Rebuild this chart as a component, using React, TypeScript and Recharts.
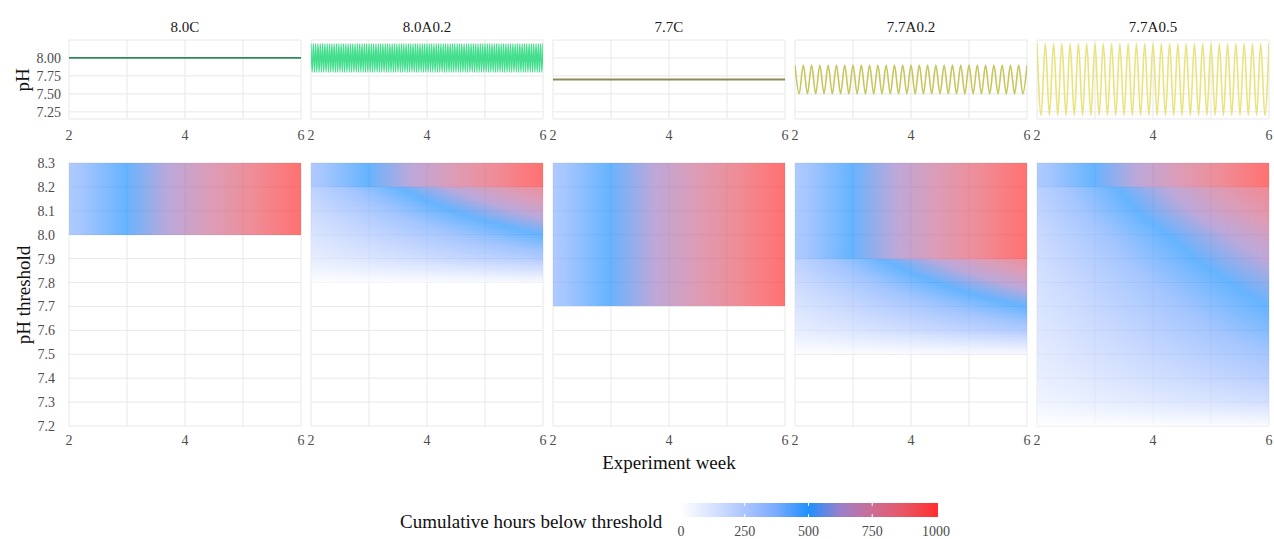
import React from 'react';
import { LineChart, Line, XAxis, YAxis, CartesianGrid, ComposedChart, ReferenceArea } from 'recharts';

// ---------- data ----------
const panelNames = ['8.0C', '8.0A0.2', '7.7C', '7.7A0.2', '7.7A0.5'];
const lineColors = ['#2E8B57', '#45DE8E', '#8E8A56', '#C6C65E', '#E9E37E'];
const weekTicks = [2, 3, 4, 5, 6];
const phTicks = [7.25, 7.5, 7.75, 8.0];
const thresholds = [7.2, 7.3, 7.4, 7.5, 7.6, 7.7, 7.8, 7.9, 8.0, 8.1, 8.2, 8.3];
// cumulative hours elapsed at each experiment week (max possible hours below threshold)
const hoursElapsed = [336, 504, 672, 840, 1008];
const legendTicks = [0, 250, 500, 750, 1000];

const ph80C = [8.0, 8.0];
const ph80A02 = [
  8.2, 7.8, 8.2, 7.8, 8.2, 7.8, 8.2, 7.8, 8.2, 7.8, 8.2, 7.8, 8.2, 7.8, 8.2, 7.8, 8.2, 7.8, 8.2, 7.8,
  8.2, 7.8, 8.2, 7.8, 8.2, 7.8, 8.2, 7.8, 8.2, 7.8, 8.2, 7.8, 8.2, 7.8, 8.2, 7.8, 8.2, 7.8, 8.2, 7.8,
  8.2, 7.8, 8.2, 7.8, 8.2, 7.8, 8.2, 7.8, 8.2, 7.8, 8.2, 7.8, 8.2, 7.8, 8.2, 7.8, 8.2, 7.8, 8.2, 7.8,
  8.2, 7.8, 8.2, 7.8, 8.2, 7.8, 8.2, 7.8, 8.2, 7.8, 8.2, 7.8, 8.2, 7.8, 8.2, 7.8, 8.2, 7.8, 8.2, 7.8,
  8.2, 7.8, 8.2, 7.8, 8.2, 7.8, 8.2, 7.8, 8.2, 7.8, 8.2, 7.8, 8.2, 7.8, 8.2, 7.8, 8.2, 7.8, 8.2, 7.8,
  8.2, 7.8, 8.2, 7.8, 8.2, 7.8, 8.2, 7.8, 8.2, 7.8, 8.2, 7.8, 8.2, 7.8, 8.2, 7.8, 8.2, 7.8, 8.2, 7.8,
  8.2, 7.8, 8.2, 7.8, 8.2, 7.8, 8.2, 7.8, 8.2, 7.8, 8.2, 7.8, 8.2, 7.8, 8.2, 7.8, 8.2, 7.8, 8.2, 7.8,
  8.2, 7.8, 8.2, 7.8, 8.2, 7.8, 8.2, 7.8, 8.2, 7.8, 8.2, 7.8, 8.2, 7.8, 8.2, 7.8, 8.2, 7.8, 8.2, 7.8,
  8.2, 7.8, 8.2, 7.8, 8.2, 7.8, 8.2, 7.8, 8.2, 7.8, 8.2, 7.8, 8.2, 7.8, 8.2, 7.8, 8.2, 7.8, 8.2, 7.8,
  8.2, 7.8, 8.2, 7.8, 8.2, 7.8, 8.2, 7.8, 8.2, 7.8, 8.2, 7.8, 8.2, 7.8, 8.2, 7.8, 8.2, 7.8, 8.2, 7.8,
  8.2,
];
const ph77C = [7.7, 7.7];
const ph77A02 = [
  7.9, 7.5, 7.9, 7.5, 7.9, 7.5, 7.9, 7.5, 7.9, 7.5, 7.9, 7.5, 7.9, 7.5, 7.9, 7.5, 7.9, 7.5, 7.9, 7.5,
  7.9, 7.5, 7.9, 7.5, 7.9, 7.5, 7.9, 7.5, 7.9, 7.5, 7.9, 7.5, 7.9, 7.5, 7.9, 7.5, 7.9, 7.5, 7.9, 7.5,
  7.9, 7.5, 7.9, 7.5, 7.9, 7.5, 7.9, 7.5, 7.9, 7.5, 7.9, 7.5, 7.9, 7.5, 7.9, 7.5, 7.9,
];
const ph77A05 = [
  8.2, 7.2, 8.2, 7.2, 8.2, 7.2, 8.2, 7.2, 8.2, 7.2, 8.2, 7.2, 8.2, 7.2, 8.2, 7.2, 8.2, 7.2, 8.2, 7.2,
  8.2, 7.2, 8.2, 7.2, 8.2, 7.2, 8.2, 7.2, 8.2, 7.2, 8.2, 7.2, 8.2, 7.2, 8.2, 7.2, 8.2, 7.2, 8.2, 7.2,
  8.2, 7.2, 8.2, 7.2, 8.2, 7.2, 8.2, 7.2, 8.2, 7.2, 8.2, 7.2, 8.2, 7.2, 8.2, 7.2, 8.2,
];
const phSeries = [ph80C, ph80A02, ph77C, ph77A02, ph77A05];
const lineWidths = [1.8, 1.3, 1.8, 1.6, 1.6];

// fraction of time below threshold at the lower / upper edge of each 0.1 threshold band
const band80CLow = [0, 0, 0, 0, 0, 0, 0, 0, 1, 1, 1];
const band80CHigh = [0, 0, 0, 0, 0, 0, 0, 0, 1, 1, 1];
const band80A02Low = [0, 0, 0, 0, 0, 0, 0.03, 0.33, 0.5, 0.67, 1];
const band80A02High = [0, 0, 0, 0, 0, 0, 0.33, 0.5, 0.67, 0.85, 1];
const band77CLow = [0, 0, 0, 0, 0, 1, 1, 1, 1, 1, 1];
const band77CHigh = [0, 0, 0, 0, 0, 1, 1, 1, 1, 1, 1];
const band77A02Low = [0, 0, 0, 0.03, 0.33, 0.5, 0.67, 1, 1, 1, 1];
const band77A02High = [0, 0, 0, 0.33, 0.5, 0.67, 0.85, 1, 1, 1, 1];
const band77A05Low = [0.02, 0.2, 0.3, 0.37, 0.44, 0.5, 0.56, 0.63, 0.7, 0.8, 1];
const band77A05High = [0.2, 0.3, 0.37, 0.44, 0.5, 0.56, 0.63, 0.7, 0.8, 0.88, 1];
const bandLow = [band80CLow, band80A02Low, band77CLow, band77A02Low, band77A05Low];
const bandHigh = [band80CHigh, band80A02High, band77CHigh, band77A02High, band77A05High];

// colour scale (hours -> colour)
const colorValues = [0, 125, 250, 375, 500, 625, 750, 875, 1000];
const colorHexes = ['#FFFFFF', '#D7E2FF', '#ACC5FF', '#79AAFF', '#1E90FF', '#9C7FC8', '#CD6D94', '#E85564', '#FF3030'];

// ---------- helpers ----------
const FONT = 'Liberation Serif, Times New Roman, serif';
const rgbOf = (h: string) => [parseInt(h.slice(1, 3), 16), parseInt(h.slice(3, 5), 16), parseInt(h.slice(5, 7), 16)];
const colorRgb = colorHexes.map(rgbOf);

function colorAt(v: number): string {
  const c = Math.max(0, Math.min(1000, v));
  let k = 0;
  while (k < colorValues.length - 2 && c > colorValues[k + 1]) k++;
  const t = (c - colorValues[k]) / (colorValues[k + 1] - colorValues[k]);
  const a = colorRgb[k], b = colorRgb[k + 1];
  const m = [0, 1, 2].map((q) => Math.round(a[q] + (b[q] - a[q]) * t));
  return `rgb(${m[0]},${m[1]},${m[2]})`;
}

function hoursAt(w: number): number {
  for (let s = 0; s < weekTicks.length - 1; s++) {
    if (w <= weekTicks[s + 1]) {
      const t = (w - weekTicks[s]) / (weekTicks[s + 1] - weekTicks[s]);
      return hoursElapsed[s] + (hoursElapsed[s + 1] - hoursElapsed[s]) * t;
    }
  }
  return hoursElapsed[hoursElapsed.length - 1];
}

function gradientStops(f: number) {
  const pts: number[] = [];
  for (let s = 0; s < weekTicks.length; s++) {
    pts.push(weekTicks[s]);
    if (s < weekTicks.length - 1) {
      const v0 = f * hoursElapsed[s];
      const v1 = f * hoursElapsed[s + 1];
      for (const cv of colorValues) {
        if (cv > v0 && cv < v1) pts.push(weekTicks[s] + ((cv - v0) / (v1 - v0)) * (weekTicks[s + 1] - weekTicks[s]));
      }
    }
  }
  const w0 = weekTicks[0];
  const span = weekTicks[weekTicks.length - 1] - w0;
  return pts.map((w) => ({ offset: (w - w0) / span, color: colorAt(f * hoursAt(w)) }));
}

const HEAT_OPACITY = 0.68;

function makeBandShape(panel: number, band: number, lo: number, hi: number) {
  return (props: any) => {
    const { x, y, width, height } = props;
    const K = lo === hi ? 1 : 14;
    const strips: React.ReactNode[] = [];
    for (let k = 0; k < K; k++) {
      const fy = (k + 0.5) / K;
      const f = hi + (lo - hi) * fy;
      if (f <= 0.001) continue;
      const id = `hm-${panel}-${band}-${k}`;
      const y0 = Math.round(y + (height * k) / K);
      const y1 = Math.round(y + (height * (k + 1)) / K);
      if (y1 <= y0) continue;
      strips.push(
        <g key={k}>
          <defs>
            <linearGradient id={id} x1="0" y1="0" x2="1" y2="0">
              {gradientStops(f).map((s, q) => (
                <stop key={q} offset={s.offset} stopColor={s.color} />
              ))}
            </linearGradient>
          </defs>
          <rect x={x} y={y0} width={width} height={y1 - y0} fill={`url(#${id})`} fillOpacity={HEAT_OPACITY} shapeRendering="crispEdges" />
        </g>
      );
    }
    return <g>{strips}</g>;
  };
}

const tickStyle = { fontSize: 14, fill: '#4D4D4D', fontFamily: FONT };
const fmtWeek = (v: number) => (v % 2 === 0 ? String(v) : '');

const PLOT_W = 232;
const plotLeftOf = (i: number) => 69 + 242 * i;

function TopChart({ i }: { i: number }) {
  const series = phSeries[i];
  const data = series.map((ph, k) => ({ week: 2 + (4 * k) / (series.length - 1), ph }));
  const yw = i === 0 ? 69 : 0;
  const ml = i === 0 ? 0 : 10;
  const left = plotLeftOf(i) - yw - ml;
  const width = yw + ml + PLOT_W + 10;
  return (
    <div style={{ position: 'absolute', left, top: 32 }}>
      <LineChart width={width} height={8 + 79 + 30} data={data} margin={{ top: 8, right: 10, bottom: 0, left: ml }}>
        <CartesianGrid stroke="#E8E8E8" strokeWidth={1} />
        <XAxis type="number" dataKey="week" domain={[2, 6]} ticks={weekTicks} interval={0} tickFormatter={fmtWeek}
          axisLine={false} tickLine={false} tickSize={0} tickMargin={11} height={30} tick={tickStyle} allowDataOverflow />
        <YAxis type="number" domain={[7.15, 8.25]} ticks={phTicks} interval={0} width={yw} hide={i !== 0} tick={tickStyle}
          tickFormatter={(v: number) => v.toFixed(2)} axisLine={false} tickLine={false} tickSize={0} tickMargin={8} allowDataOverflow />
        <Line dataKey="ph" type="monotone" stroke={lineColors[i]} strokeWidth={lineWidths[i]} dot={false} isAnimationActive={false} />
      </LineChart>
    </div>
  );
}

function HeatChart({ i }: { i: number }) {
  const data = weekTicks.map((w, k) => ({ week: w, hours: hoursElapsed[k] }));
  const yw = i === 0 ? 69 : 0;
  const ml = i === 0 ? 0 : 10;
  const left = plotLeftOf(i) - yw - ml;
  const width = yw + ml + PLOT_W + 10;
  const lows = bandLow[i];
  const highs = bandHigh[i];
  return (
    <div style={{ position: 'absolute', left, top: 155 }}>
      <ComposedChart width={width} height={8 + 263 + 32} data={data} margin={{ top: 8, right: 10, bottom: 0, left: ml }}>
        <CartesianGrid stroke="#E8E8E8" strokeWidth={1} />
        <XAxis type="number" dataKey="week" domain={[2, 6]} ticks={weekTicks} interval={0} tickFormatter={fmtWeek}
          axisLine={false} tickLine={false} tickSize={0} tickMargin={9} height={32} tick={tickStyle} allowDataOverflow />
        <YAxis type="number" domain={[7.2, 8.3]} ticks={thresholds} width={yw} hide={i !== 0} tick={tickStyle} interval={0}
          tickFormatter={(v: number) => v.toFixed(1)} axisLine={false} tickLine={false} tickSize={0} tickMargin={14} allowDataOverflow />
        {lows.map((lo, j) =>
          lo === 0 && highs[j] === 0 ? null : (
            <ReferenceArea key={j} x1={2} x2={6} y1={thresholds[j]} y2={thresholds[j + 1]}
              shape={makeBandShape(i, j, lo, highs[j])} />
          )
        )}
      </ComposedChart>
    </div>
  );
}

function Overlay() {
  const barX0 = 681;
  const barX1 = 938;
  const vmax = 1008;
  const px = (v: number) => barX0 + ((barX1 - barX0) * v) / vmax;
  return (
    <svg width={1274} height={539} style={{ position: 'absolute', left: 0, top: 0, pointerEvents: 'none' }}>
      <defs>
        <linearGradient id="legendGrad" x1="0" y1="0" x2="1" y2="0">
          {colorValues.map((v, k) => (
            <stop key={k} offset={v / vmax} stopColor={colorHexes[k]} />
          ))}
          <stop offset={1} stopColor={colorHexes[colorHexes.length - 1]} />
        </linearGradient>
      </defs>
      {panelNames.map((n, i) => (
        <text key={n} x={plotLeftOf(i) + PLOT_W / 2} y={32} textAnchor="middle" fontSize={15} fill="#1A1A1A" fontFamily={FONT}>
          {n}
        </text>
      ))}
      <text transform="translate(29,80) rotate(-90)" textAnchor="middle" fontSize={19} fill="#111" fontFamily={FONT}>pH</text>
      <text transform="translate(30,295) rotate(-90)" textAnchor="middle" fontSize={19} fill="#111" fontFamily={FONT}>pH threshold</text>
      <text x={669} y={469} textAnchor="middle" fontSize={19} fill="#111" fontFamily={FONT}>Experiment week</text>
      <text x={400} y={528} fontSize={19} fill="#111" fontFamily={FONT}>Cumulative hours below threshold</text>
      <rect x={barX0} y={503} width={barX1 - barX0} height={14} fill="url(#legendGrad)" />
      {[250, 500, 750].map((v) => (
        <g key={v}>
          <line x1={px(v)} x2={px(v)} y1={503} y2={506} stroke="#FFFFFF" strokeWidth={1} />
          <line x1={px(v)} x2={px(v)} y1={514} y2={517} stroke="#FFFFFF" strokeWidth={1} />
        </g>
      ))}
      {legendTicks.map((v) => (
        <text key={v} x={px(v)} y={536} textAnchor="middle" fontSize={14} fill="#4D4D4D" fontFamily={FONT}>
          {v}
        </text>
      ))}
    </svg>
  );
}

export default function App() {
  return (
    <div style={{ position: 'absolute', left: 0, top: 0, width: 1274, height: 539, background: '#FFFFFF', fontFamily: FONT, overflow: 'hidden' }}>
      {panelNames.map((n, i) => (
        <TopChart key={`t${n}`} i={i} />
      ))}
      {panelNames.map((n, i) => (
        <HeatChart key={`h${n}`} i={i} />
      ))}
      <Overlay />
    </div>
  );
}
